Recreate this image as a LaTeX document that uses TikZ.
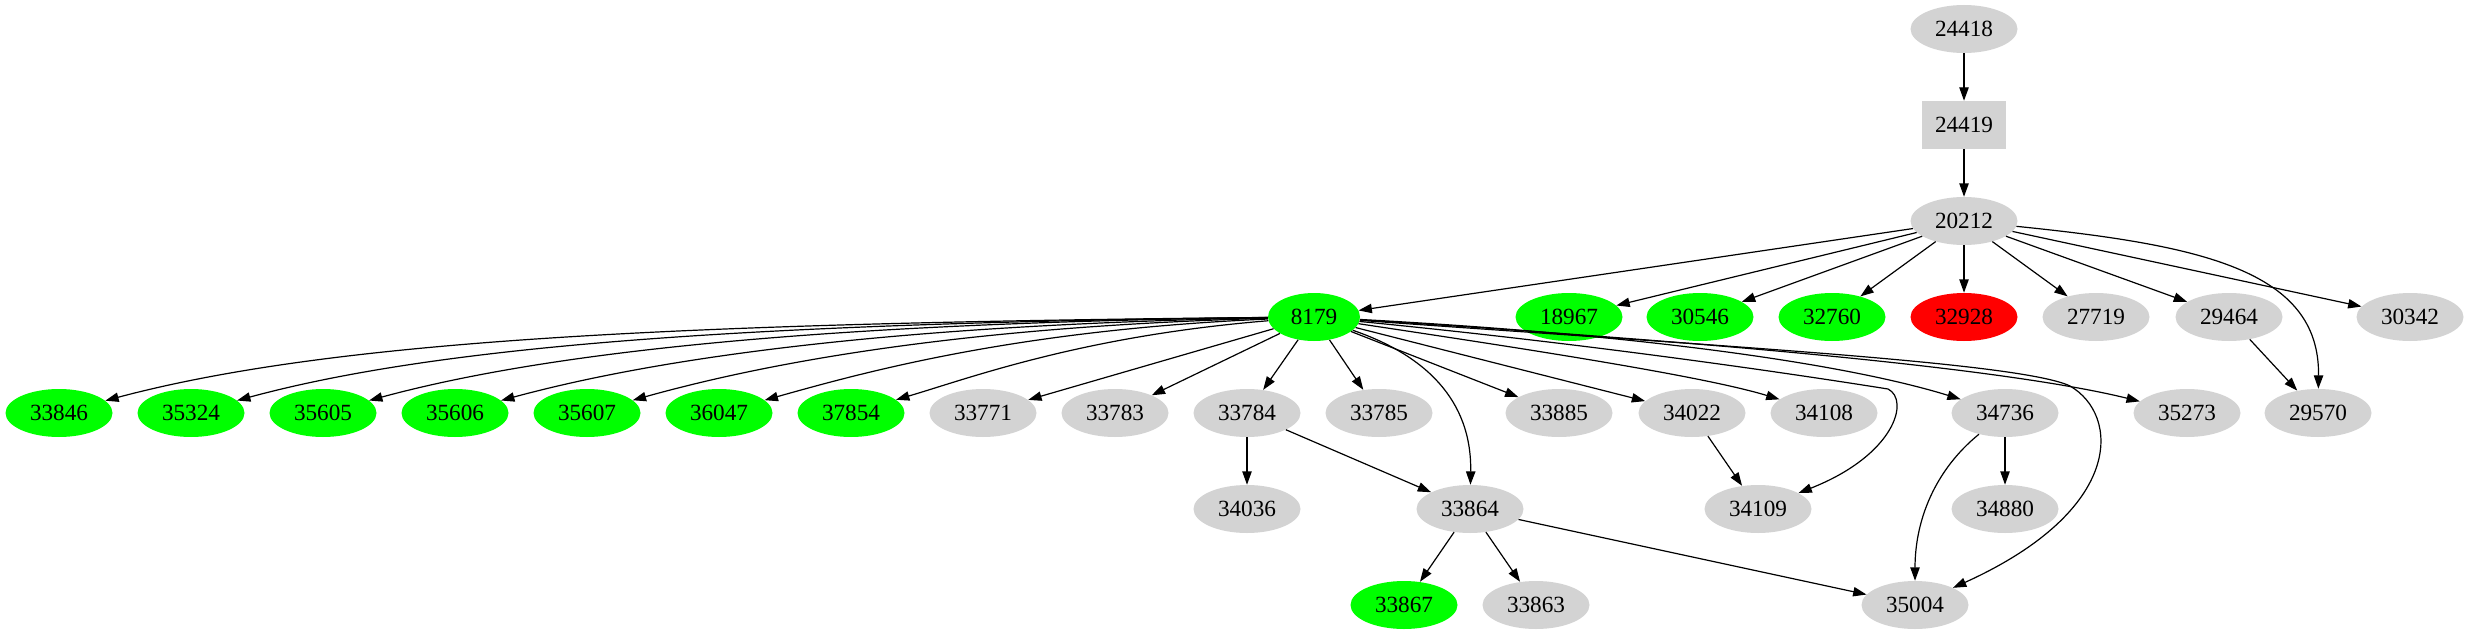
\documentclass[tikz,border=0pt]{standalone}
\usepackage{fontspec}
\setmainfont{Liberation Serif}
\usetikzlibrary{shapes.geometric,arrows.meta}
\definecolor{gvgreen}{HTML}{00FF00}
\definecolor{gvred}{HTML}{FF0000}
\definecolor{gvgray}{HTML}{D3D3D3}
\begin{document}
\begin{tikzpicture}[x=0.75pt,y=-0.75pt,
  every node/.style={font=\fontsize{17.4}{20}\selectfont, inner sep=0pt},
  gn/.style={ellipse, fill=gvgray, minimum width=80.25pt, minimum height=36pt},
  gg/.style={gn, fill=gvgreen},
  rn/.style={gn, fill=gvred},
  bx/.style={rectangle, fill=gvgray, minimum width=63pt, minimum height=36pt},
  e/.style={line width=0.9pt, -{Triangle[length=10pt,width=7pt]}}]
\useasboundingbox (0,0) rectangle (2469,635);
% rank 0-2
\node[gn] (n24418) at (1964,29) {24418};
\node[bx] (n24419) at (1964,125) {24419};
\node[gn] (n20212) at (1964,221) {20212};
% rank 3
\node[gg, minimum width=69pt] (n8179) at (1314,317) {8179};
\node[gg] (n18967) at (1569,317) {18967};
\node[gg] (n30546) at (1700,317) {30546};
\node[gg] (n32760) at (1832,317) {32760};
\node[rn] (n32928) at (1964,317) {32928};
\node[gn] (n27719) at (2096,317) {27719};
\node[gn] (n29464) at (2229,317) {29464};
\node[gn] (n30342) at (2410,317) {30342};
% rank 4
\node[gg] (n33846) at (59,413) {33846};
\node[gg] (n35324) at (191,413) {35324};
\node[gg] (n35605) at (323,413) {35605};
\node[gg] (n35606) at (455,413) {35606};
\node[gg] (n35607) at (587,413) {35607};
\node[gg] (n36047) at (719,413) {36047};
\node[gg] (n37854) at (851,413) {37854};
\node[gn] (n33771) at (983,413) {33771};
\node[gn] (n33783) at (1115,413) {33783};
\node[gn] (n33784) at (1247,413) {33784};
\node[gn] (n33785) at (1379,413) {33785};
\node[gn] (n33885) at (1559,413) {33885};
\node[gn] (n34022) at (1692,413) {34022};
\node[gn] (n34108) at (1824,413) {34108};
\node[gn] (n34736) at (2005,413) {34736};
\node[gn] (n35273) at (2187,413) {35273};
\node[gn] (n29570) at (2318,413) {29570};
% rank 5
\node[gn] (n34036) at (1247,509) {34036};
\node[gn] (n33864) at (1470,509) {33864};
\node[gn] (n34109) at (1758,509) {34109};
\node[gn] (n34880) at (2005,509) {34880};
% rank 6
\node[gg] (n33867) at (1404,605) {33867};
\node[gn] (n33863) at (1536,605) {33863};
\node[gn] (n35004) at (1915,605) {35004};
% edges top
\draw[e] (n24418) -- (n24419);
\draw[e] (n24419) -- (n20212);
\draw[e] (n20212) -- (n8179);
\draw[e] (n20212) -- (n18967);
\draw[e] (n20212) -- (n30546);
\draw[e] (n20212) -- (n32760);
\draw[e] (n20212) -- (n32928);
\draw[e] (n20212) -- (n27719);
\draw[e] (n20212) -- (n29464);
\draw[e] (n20212) -- (n30342);
\draw[e] (n20212) .. controls (2200,245) and (2320,270) .. (n29570);
\draw[e] (n29464) -- (n29570);
% fan to the left
\draw[e] (n8179) .. controls (686,323) and (337,339) .. (n33846);
\draw[e] (n8179) .. controls (752,323) and (442,345) .. (n35324);
\draw[e] (n8179) .. controls (818,323) and (548,352) .. (n35605);
\draw[e] (n8179) .. controls (884,325) and (654,359) .. (n35606);
\draw[e] (n8179) .. controls (950,327) and (759,365) .. (n35607);
\draw[e] (n8179) .. controls (1016,330) and (865,372) .. (n36047);
\draw[e] (n8179) .. controls (1082,336) and (970,378) .. (n37854);
\draw[e] (n8179) -- (n33771);
\draw[e] (n8179) -- (n33783);
\draw[e] (n8179) -- (n33784);
\draw[e] (n8179) -- (n33785);
\draw[e] (n8179) -- (n33885);
\draw[e] (n8179) -- (n34022);
\draw[e] (n8179) .. controls (1500,345) and (1700,375) .. (n34108);
\draw[e] (n8179) .. controls (1650,335) and (1850,365) .. (n34736);
\draw[e] (n8179) .. controls (1600,335) and (1980,362) .. (n35273);
\draw[e] (n8179) .. controls (1425,355) and (1472,400) .. (n33864);
\draw[e] (n8179) .. controls (1600,345) and (1800,375) .. (1888,389)
  .. controls (1910,400) and (1895,455) .. (n34109);
\draw[e] (n8179) .. controls (1700,345) and (2020,362) .. (2070,386)
  .. controls (2120,415) and (2125,510) .. (n35004);
% lower
\draw[e] (n33784) -- (n34036);
\draw[e] (n33784) -- (n33864);
\draw[e] (n34022) -- (n34109);
\draw[e] (n34736) -- (n34880);
\draw[e] (n34736) .. controls (1935,470) and (1915,520) .. (n35004);
\draw[e] (n33864) -- (n33867);
\draw[e] (n33864) -- (n33863);
\draw[e] (n33864) -- (n35004);
\end{tikzpicture}
\end{document}
